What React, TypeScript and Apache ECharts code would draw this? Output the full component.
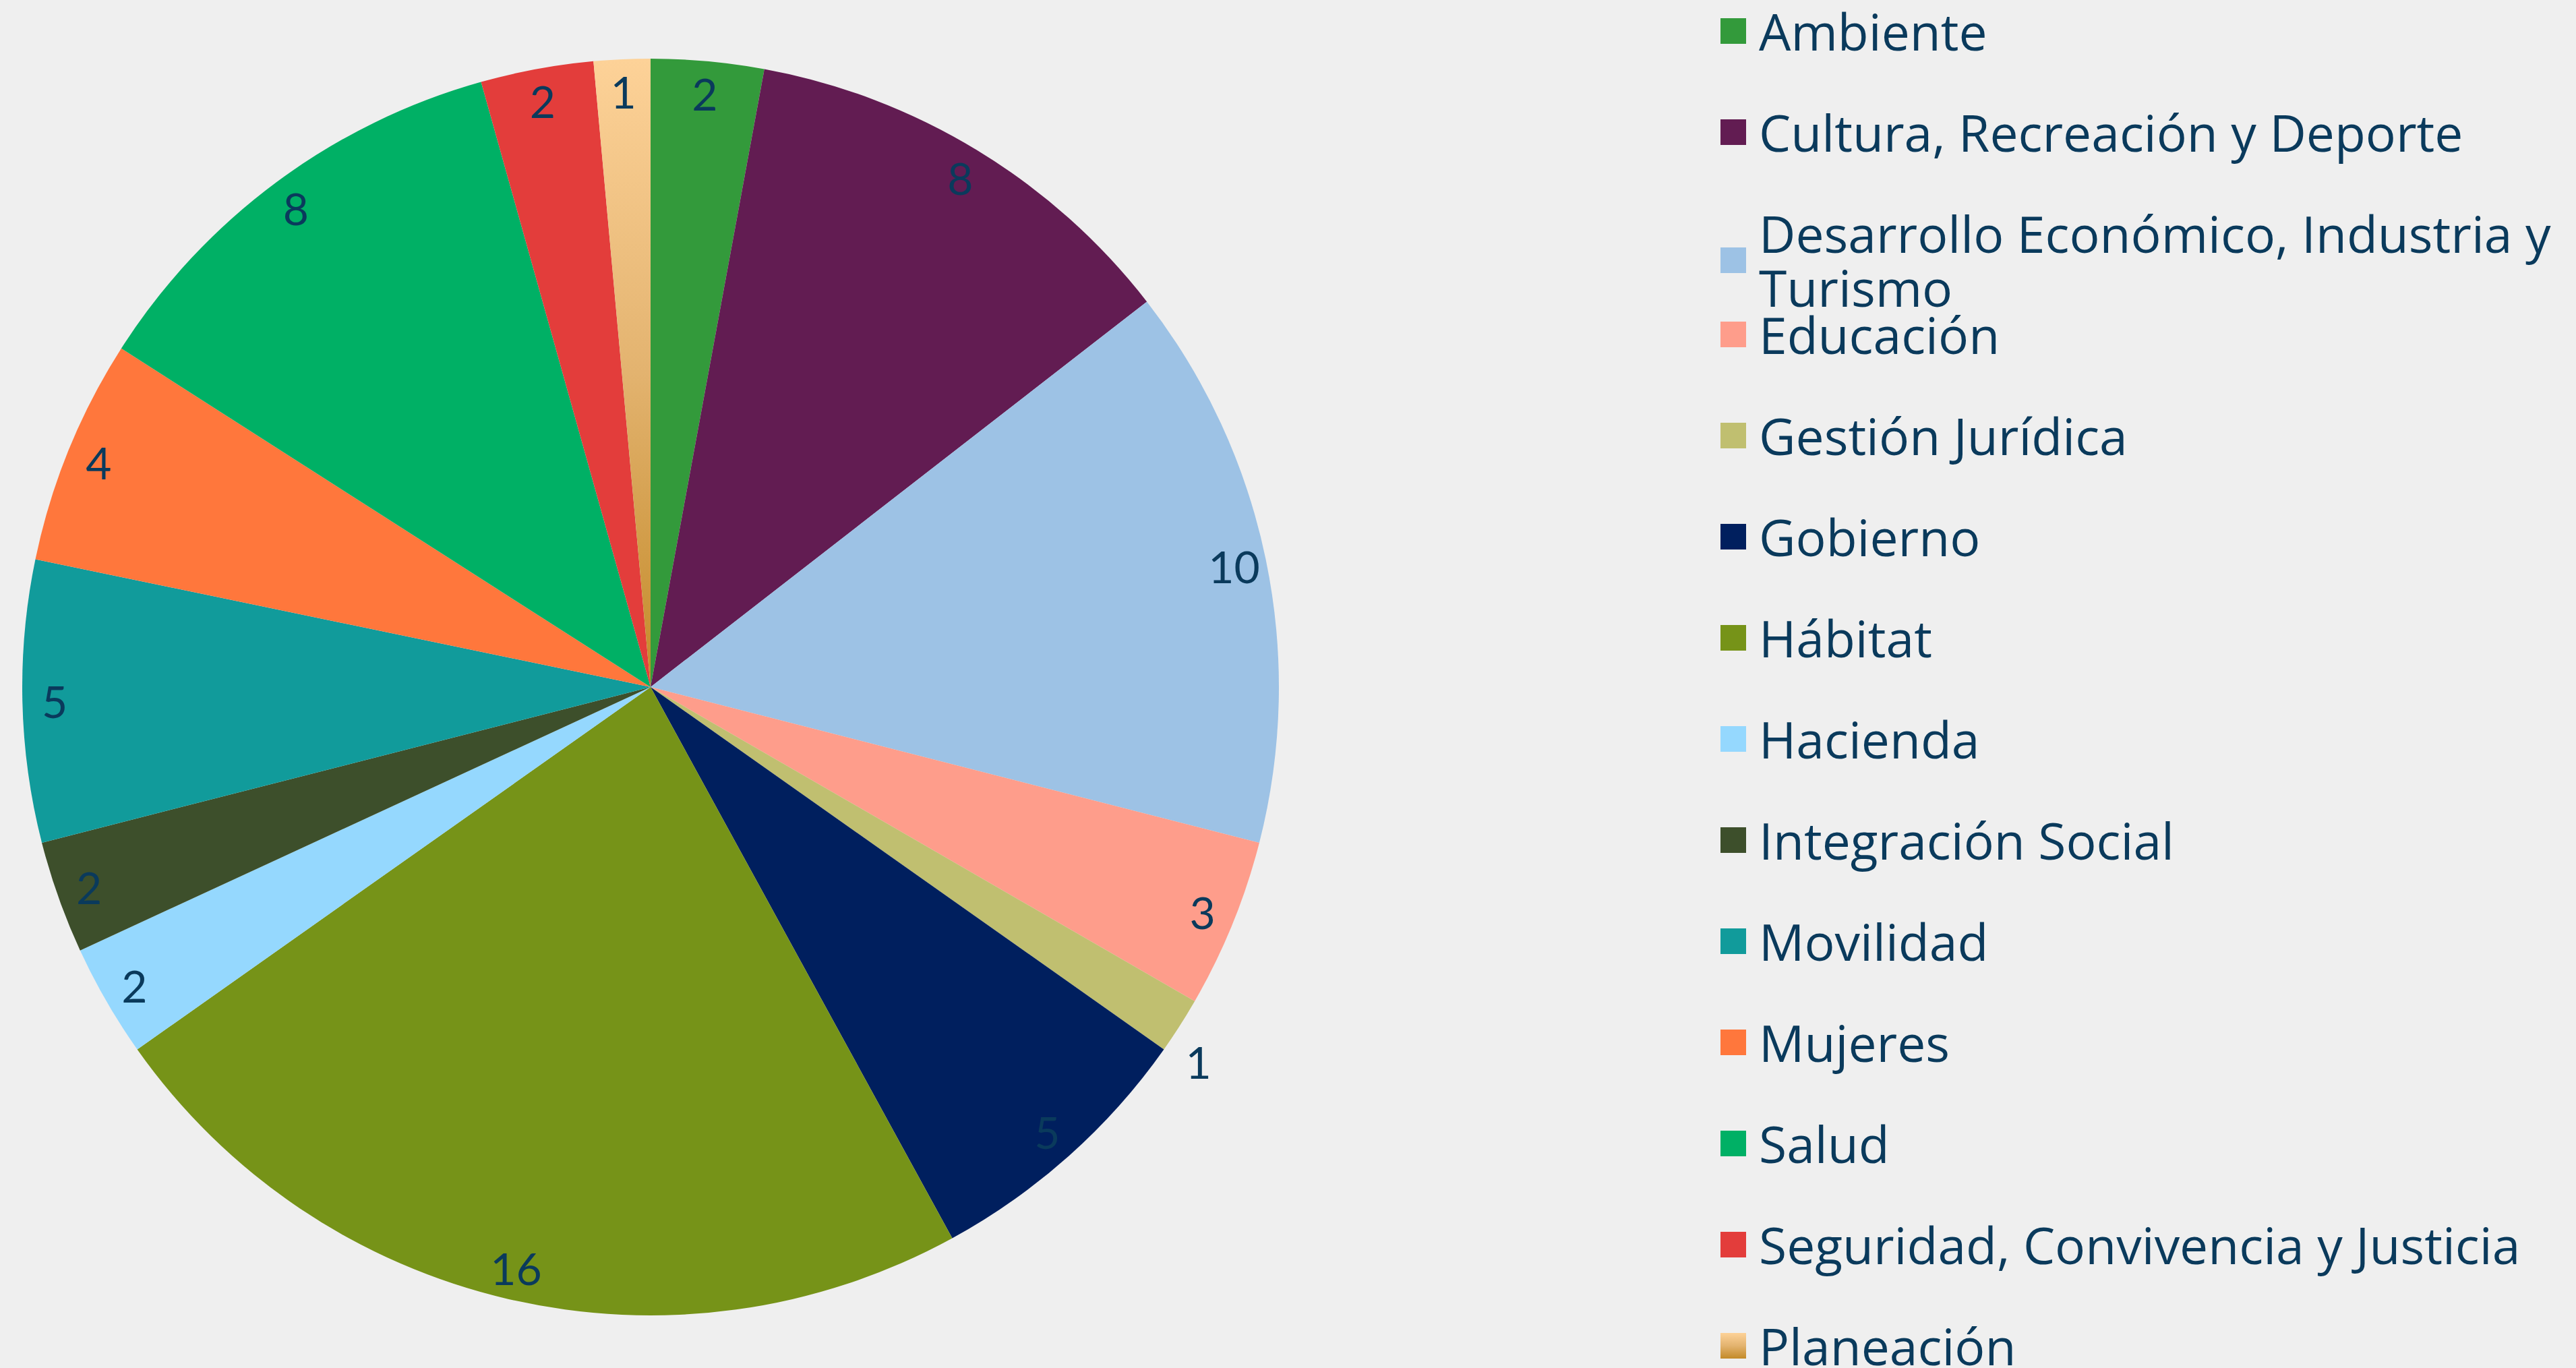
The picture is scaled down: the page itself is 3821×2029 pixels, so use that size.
import React, { useEffect, useRef } from "react";
import * as echarts from "echarts";

const categories = [
  "Ambiente",
  "Cultura, Recreación y Deporte",
  "Desarrollo Económico, Industria y Turismo",
  "Educación",
  "Gestión Jurídica",
  "Gobierno",
  "Hábitat",
  "Hacienda",
  "Integración Social",
  "Movilidad",
  "Mujeres",
  "Salud",
  "Seguridad, Convivencia y Justicia",
  "Planeación",
];

const values = [2, 8, 10, 3, 1, 5, 16, 2, 2, 5, 4, 8, 2, 1];

const solidColors = [
  "#339a3b",
  "#621c52",
  "#9dc2e5",
  "#fe9d8b",
  "#c0bf70",
  "#001f5e",
  "#769318",
  "#95d8fe",
  "#3d4f2b",
  "#119b9b",
  "#ff773c",
  "#00b065",
  "#e33d3b",
  null,
];

const planeacionStops = ["#fdd298", "#e3b36f", "#c38a28"];

const WRAPPED_NAME = "Desarrollo Económico, Industria y\nTurismo";
const OUTSIDE_LABEL = "Gestión Jurídica";
const LEGEND_SPLIT = 3; // first legend block ends with the wrapped item

const TEXT_COLOR = "#0a3a5c";

export default function App() {
  const ref = useRef<HTMLDivElement>(null);

  useEffect(() => {
    if (!ref.current) return;
    const chart = echarts.init(ref.current, null, { renderer: "svg" });

    const planeacionGradient = new echarts.graphic.LinearGradient(0, 0, 0, 1, [
      { offset: 0, color: planeacionStops[0] },
      { offset: 0.5, color: planeacionStops[1] },
      { offset: 1, color: planeacionStops[2] },
    ]);

    const colorOf = (i: number) => solidColors[i] ?? planeacionGradient;

    const mainData = categories.map((name, i) => ({
      name,
      value: values[i],
      itemStyle: { color: colorOf(i) },
    }));

    const labelData = categories.map((name, i) => ({
      name,
      value: values[i],
    }));

    const outsideIdx = categories.indexOf(OUTSIDE_LABEL);

    const ITEM_STEP = 150;
    const LINE_H = 80;
    const FIRST_CENTER = 46;

    const legendBase = {
      orient: "vertical",
      left: 2552,
      height: 2100,
      padding: 0,
      itemWidth: 38,
      itemHeight: 38,
      itemGap: ITEM_STEP - LINE_H,
      icon: "rect",
      selectedMode: false,
      formatter: (name: string) =>
        name === categories[2] ? WRAPPED_NAME : name,
      textStyle: {
        fontFamily: "Open Sans",
        fontSize: 75,
        color: TEXT_COLOR,
        lineHeight: LINE_H,
        padding: [0, 0, 0, 14],
      },
    };

    const option: any = {
      animation: false,
      backgroundColor: "#efefef",
      legend: [
        {
          ...legendBase,
          top: FIRST_CENTER - LINE_H / 2,
          data: categories.slice(0, LEGEND_SPLIT),
        },
        {
          ...legendBase,
          top: FIRST_CENTER + LEGEND_SPLIT * ITEM_STEP - LINE_H / 2,
          data: categories.slice(LEGEND_SPLIT),
        },
      ],
      series: [
        {
          type: "pie",
          center: [965, 1019],
          radius: [0, 932],
          startAngle: 90,
          clockwise: true,
          silent: true,
          label: { show: false },
          labelLine: { show: false },
          itemStyle: { borderWidth: 0 },
          data: mainData,
        },
        {
          type: "pie",
          center: [965, 1019],
          radius: [830, 932],
          startAngle: 90,
          clockwise: true,
          silent: true,
          itemStyle: { color: "rgba(0,0,0,0)", borderWidth: 0 },
          label: {
            show: true,
            position: "inside",
            formatter: "{c}",
            color: TEXT_COLOR,
            fontFamily: "Lato",
            fontSize: 66,
          },
          labelLine: { show: false },
          labelLayout: (p: any) =>
            p.dataIndex === outsideIdx ? { dx: 68, dy: 79 } : {},
          data: labelData,
        },
      ],
    };

    chart.setOption(option);
    return () => chart.dispose();
  }, []);

  return (
    <div
      ref={ref}
      style={{
        position: "fixed",
        left: 0,
        top: 0,
        width: "3821px",
        height: "2029px",
      }}
    />
  );
}
